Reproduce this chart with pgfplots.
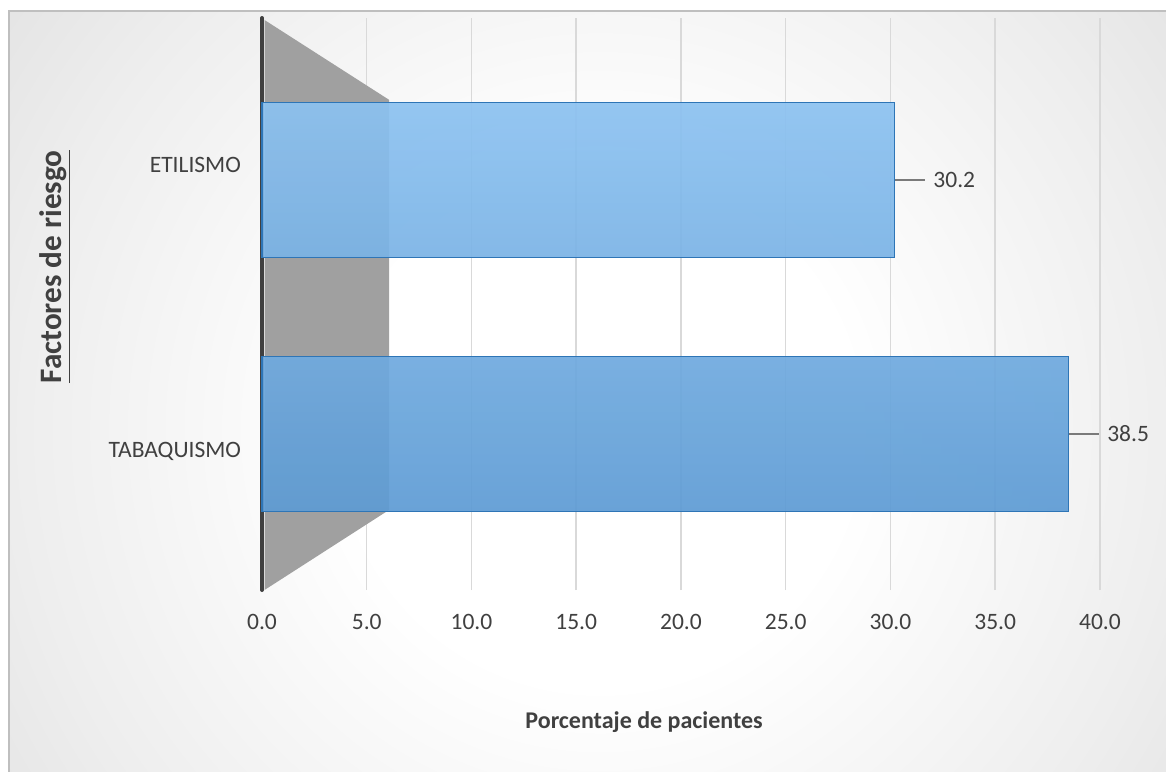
\documentclass[border=0pt]{standalone}
\usepackage{fontspec}
\setmainfont{Carlito}
\usepackage{pgfplots}
\pgfplotsset{compat=1.18}
\definecolor{txt}{HTML}{404040}
\definecolor{gridcol}{HTML}{D9D9D9}
\definecolor{wallcol}{HTML}{A0A0A0}
\definecolor{barEdge}{HTML}{2E75B6}
\definecolor{barTop}{HTML}{8CC2F1}
\definecolor{barBot}{HTML}{5D9BD4}
\definecolor{leadcol}{HTML}{7A7A7A}
\definecolor{bordercol}{HTML}{BFBFBF}
\definecolor{bga}{HTML}{EEEEEE}
\definecolor{bgb}{HTML}{E0E0E0}
\definecolor{bgc}{HTML}{CDCDCD}
\definecolor{bgd}{HTML}{C2C2C2}
\pgfdeclareradialshading{bgshade}{\pgfpoint{0bp}{0bp}}{color(0bp)=(white); color(8bp)=(white); color(18bp)=(bga); color(25bp)=(bgb); color(35bp)=(bgc); color(45bp)=(bgd); color(50bp)=(bgd)}
\begin{document}
\begin{tikzpicture}
\useasboundingbox (-131pt,-90.5pt) rectangle (452pt,295pt);
\begin{scope}[shift={(-131pt,295pt)}, x=0.5pt, y=-0.5pt]
  \fill[white] (0,0) rectangle (1166,771);
  \begin{scope}
    \clip (9,11) rectangle (1175,780);
    \shade[shading=bgshade] (600,430) circle (800);
  \end{scope}
  \draw[bordercol, line width=0.75pt] (9,780) -- (9,11) -- (1175,11);
\end{scope}
\begin{axis}[
  at={(0,0)}, anchor=south west,
  scale only axis, width=419pt, height=286pt,
  xmin=0, xmax=40, ymin=-0.6142, ymax=1.6378,
  axis x line*=bottom, axis y line*=left,
  x axis line style={draw=none},
  y axis line style={draw=txt, line width=2pt, line cap=round},
  major tick length=0pt,
  xtick={0,5,...,40},
  ytick={0,1},
  yticklabels={{\raisebox{-8.5pt}[\height][\depth]{TABAQUISMO}},{\raisebox{7.5pt}[\height][\depth]{ETILISMO}}},
  xmajorgrids, ymajorgrids=false,
  major grid style={draw=gridcol, line width=0.75pt},
  tick label style={font=\fontsize{11.75}{14}\selectfont, text=txt},
  xticklabel style={yshift=-8.5pt},
  yticklabel style={xshift=-7pt},
  xlabel={Porcentaje de pacientes},
  xlabel style={at={(rel axis cs:0.456,-0.231)}, anchor=center, font=\fontsize{12}{14}\selectfont\bfseries, text=txt},
  ylabel={\underline{Factores de riesgo}},
  ylabel style={at={(rel axis cs:-0.247,0.565)}, anchor=center, font=\fontsize{15.6}{18}\selectfont\bfseries, text=txt},
  clip=false,
  /pgf/number format/fixed, /pgf/number format/fixed zerofill, /pgf/number format/precision=1, /pgf/number format/assume math mode=true,
]
\fill[wallcol] (rel axis cs:0.003,0.9965) -- (rel axis cs:0.1516,0.857) -- (rel axis cs:0.1516,0.140) -- (rel axis cs:0.003,0) -- cycle;
\addplot[xbar, bar width=0.61, point meta=x, draw=barEdge, line width=0.75pt,
  top color=barTop, bottom color=barBot, fill opacity=0.92,
  nodes near coords={\textcolor{leadcol}{\rule[0.28em]{15pt}{1pt}}\hspace{4pt}\pgfmathprintnumber{\pgfplotspointmeta}},
  every node near coord/.append style={anchor=west, inner sep=0pt, font=\fontsize{11.75}{14}\selectfont, text=txt, fill opacity=1, text opacity=1}
] coordinates {(38.5,0) (30.2,1)};
\end{axis}
\end{tikzpicture}
\end{document}
